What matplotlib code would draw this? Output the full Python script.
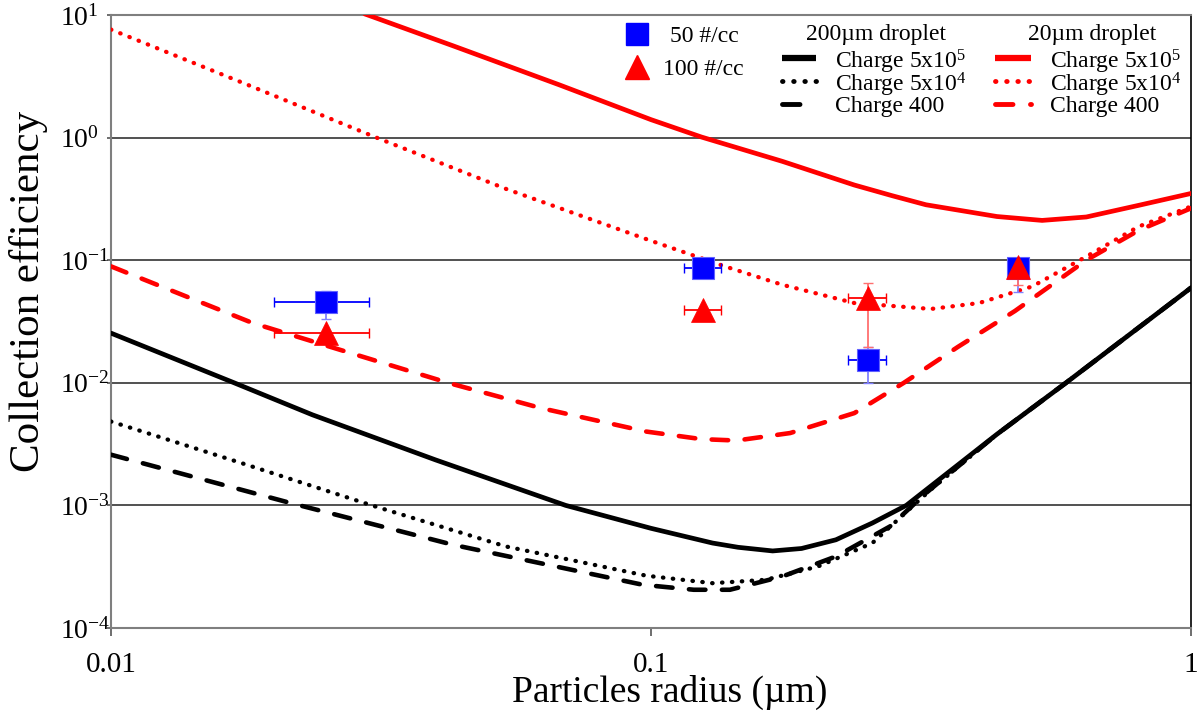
import matplotlib
matplotlib.use("Agg")
import matplotlib.pyplot as plt
from matplotlib.lines import Line2D

plt.rcParams['font.family'] = ['Liberation Serif', 'DejaVu Serif']
plt.rcParams['mathtext.fontset'] = 'custom'
plt.rcParams['mathtext.rm'] = 'Liberation Serif'
plt.rcParams['mathtext.default'] = 'regular'

# ---- model curves ----
# 200 um droplet
blk_solid_x = [0.01, 0.0169, 0.0236, 0.0399, 0.0695, 0.1, 0.13, 0.145, 0.168, 0.19, 0.22, 0.257, 0.297, 0.437, 0.587, 1.0]
blk_solid_y = [0.0254, 0.0100, 0.00548, 0.00235, 0.00100, 0.00065, 0.000493, 0.000455, 0.000425, 0.000445, 0.000524, 0.000718, 0.00100, 0.0038, 0.0100, 0.0595]

blk_dot_x = [0.01, 0.01746, 0.0304, 0.0539, 0.098, 0.13, 0.163, 0.204, 0.257, 0.30, 0.33, 0.437, 0.587, 1.0]
blk_dot_y = [0.00483, 0.00221, 0.00100, 0.000462, 0.000267, 0.000232, 0.000247, 0.000318, 0.000493, 0.00092, 0.00135, 0.0038, 0.0100, 0.0595]

blk_dash_x = [0.01, 0.0216, 0.043, 0.0966, 0.12, 0.14, 0.175, 0.22, 0.277, 0.323, 0.437, 0.587, 1.0]
blk_dash_y = [0.00259, 0.00104, 0.000477, 0.000225, 0.000205, 0.000205, 0.000263, 0.000383, 0.000673, 0.00126, 0.0038, 0.0100, 0.0595]

# 20 um droplet
red_solid_x = [0.0295, 0.043, 0.0675, 0.1, 0.124, 0.175, 0.238, 0.28, 0.323, 0.437, 0.53, 0.64, 0.80, 1.0]
red_solid_y = [10.2, 5.6, 2.7, 1.4, 1.01, 0.64, 0.41, 0.335, 0.283, 0.227, 0.211, 0.225, 0.28, 0.35]

red_dot_x = [0.01, 0.0177, 0.031, 0.054, 0.0995, 0.137, 0.175, 0.238, 0.33, 0.405, 0.508, 0.64, 0.80, 1.0]
red_dot_y = [7.6, 2.75, 1.0, 0.38, 0.145, 0.089, 0.063, 0.0447, 0.040, 0.0447, 0.061, 0.107, 0.188, 0.274]

red_dash_x = [0.01, 0.0183, 0.0274, 0.0424, 0.0625, 0.098, 0.124, 0.144, 0.181, 0.238, 0.294, 0.37, 0.472, 0.64, 0.80, 1.0]
red_dash_y = [0.089, 0.0307, 0.0178, 0.0099, 0.00622, 0.0040, 0.00347, 0.00338, 0.00389, 0.00566, 0.0100, 0.0196, 0.0385, 0.100, 0.175, 0.265]

# ---- measurements ----
meas_x = [0.025, 0.125, 0.252, 0.479]
xerr_half = [0.005, 0.010, 0.020, 0.0]

sq_y = [0.046, 0.087, 0.0154, 0.087]        # 50 #/cc
sq_yerr_lo = [0.013, 0.0, 0.0054, 0.032]
sq_yerr_hi = [0.010, 0.0, 0.004, 0.0]

tri_y = [0.0256, 0.0394, 0.049, 0.088]      # 100 #/cc
tri_yerr_lo = [0.0, 0.0, 0.0295, 0.025]
tri_yerr_hi = [0.0, 0.0, 0.0165, 0.0]

fig = plt.figure(figsize=(12, 7.12), dpi=100)
ax = fig.add_axes([0.0925, 0.118, 0.9, 0.861])

ax.set_xscale('log')
ax.set_yscale('log')
ax.set_xlim(0.01, 1)
ax.set_ylim(1e-4, 10)

for yv in [1e-3, 1e-2, 1e-1, 1e0]:
    ax.axhline(yv, color='#333333', lw=1.2, zorder=1)

dot = (0, (0.1, 2.2))
dash = (0, (3.6, 3.6))
ax.plot(blk_solid_x, blk_solid_y, color='black', lw=3.4, solid_capstyle='round', solid_joinstyle='round', zorder=3)
ax.plot(blk_dot_x, blk_dot_y, color='black', lw=3.1, ls=dot, dash_capstyle='round', zorder=3)
ax.plot(blk_dash_x, blk_dash_y, color='black', lw=3.3, ls=dash, dash_capstyle='round', zorder=3)
ax.plot(red_solid_x, red_solid_y, color='#ff0000', lw=3.4, solid_capstyle='round', solid_joinstyle='round', zorder=3)
ax.plot(red_dot_x, red_dot_y, color='#ff0000', lw=3.1, ls=dot, dash_capstyle='round', zorder=3)
ax.plot(red_dash_x, red_dash_y, color='#ff0000', lw=3.3, ls=dash, dash_capstyle='round', zorder=3)

# error bars
ax.errorbar(meas_x, sq_y, xerr=xerr_half, fmt='none', ecolor='#0000ff', elinewidth=1.3, capsize=3.5, zorder=4)
ax.errorbar(meas_x, sq_y, yerr=[sq_yerr_lo, sq_yerr_hi], fmt='none', ecolor='#8080ff', elinewidth=1.3, capsize=3.5, zorder=4)
ax.errorbar(meas_x, tri_y, xerr=xerr_half, fmt='none', ecolor='#ff0000', elinewidth=1.3, capsize=3.5, zorder=4)
ax.errorbar(meas_x, tri_y, yerr=[tri_yerr_lo, tri_yerr_hi], fmt='none', ecolor='#ff7070', elinewidth=1.3, capsize=3.5, zorder=4)

ax.plot(meas_x, sq_y, ls='none', marker='s', ms=16.5, mfc='#0000ff', mec='#6060ff', mew=0.8, zorder=5)
ax.plot(meas_x, tri_y, ls='none', marker='^', ms=17, mfc='#ff0000', mec='#ff0000', mew=0.5, zorder=6)

# axes styling
for side in ['left', 'bottom', 'top']:
    ax.spines[side].set_color('#7f7f7f')
    ax.spines[side].set_linewidth(1.5)
ax.spines['right'].set_color('black')
ax.spines['right'].set_linewidth(1.2)

ax.minorticks_off()
ax.set_xticks([0.01, 0.1, 1])
ax.set_xticklabels(['0.01', '0.1', '1'])
ax.set_yticks([1e-4, 1e-3, 1e-2, 1e-1, 1e0, 1e1])
ax.set_yticklabels([r'$10^{-4}$', r'$10^{-3}$', r'$10^{-2}$', r'$10^{-1}$', r'$10^{0}$', r'$10^{1}$'])
ax.tick_params(axis='x', direction='out', length=6, width=1.2, color='#555555', pad=11, labelsize=21)
# excel puts these labels flush left
ax.tick_params(axis='y', direction='out', length=3, width=1.2, color='#555555', pad=34, labelsize=20)
for lab in ax.get_yticklabels():
    lab.set_ha('left')

ax.set_xlabel('Particles radius (µm)', fontsize=27)
ax.set_ylabel('Collection efficiency', fontsize=31)
ax.xaxis.set_label_coords(0.517, -0.121)
ax.xaxis.label.set_va('baseline')
ax.yaxis.set_label_coords(-0.076, 0.549)
ax.yaxis.label.set_va('center')

# ---- legend, drawn by hand in figure pixels ----
W, H = 1200.0, 712.0

def fx(px):
    return px / W

def fy(py):
    return 1 - py / H

leg_fs = 17
fig.add_artist(Line2D([fx(637)], [fy(34)], marker='s', ms=16.5, color='#0000ff', ls='none'))
fig.add_artist(Line2D([fx(637)], [fy(67)], marker='^', ms=17, color='#ff0000', ls='none'))
fig.text(fx(670), fy(34), '50 #/cc', fontsize=leg_fs, va='center_baseline')
fig.text(fx(663), fy(67), '100 #/cc', fontsize=leg_fs, va='center_baseline')

fig.text(fx(876), fy(32), '200µm droplet', fontsize=leg_fs, ha='center', va='center_baseline')
fig.text(fx(1092), fy(32), '20µm droplet', fontsize=leg_fs, ha='center', va='center_baseline')

labels = ['Charge 5x10$^5$', 'Charge 5x10$^4$', 'Charge 400']
styles = ['-', dot, dash]
rows = [58, 81, 104]
for col, (x0, x1, xt) in zip(['black', '#ff0000'], [(782, 816, 835), (995, 1031, 1050)]):
    for lab, st, ry in zip(labels, styles, rows):
        fig.add_artist(Line2D([fx(x0), fx(x1)], [fy(ry), fy(ry)], color=col, lw=4.5 if st == '-' else 3.5,
                              ls=st, dash_capstyle='round', solid_capstyle='butt'))
        fig.text(fx(xt), fy(ry), lab, fontsize=leg_fs, va='center_baseline')

fig.savefig('out.png', dpi=100)
